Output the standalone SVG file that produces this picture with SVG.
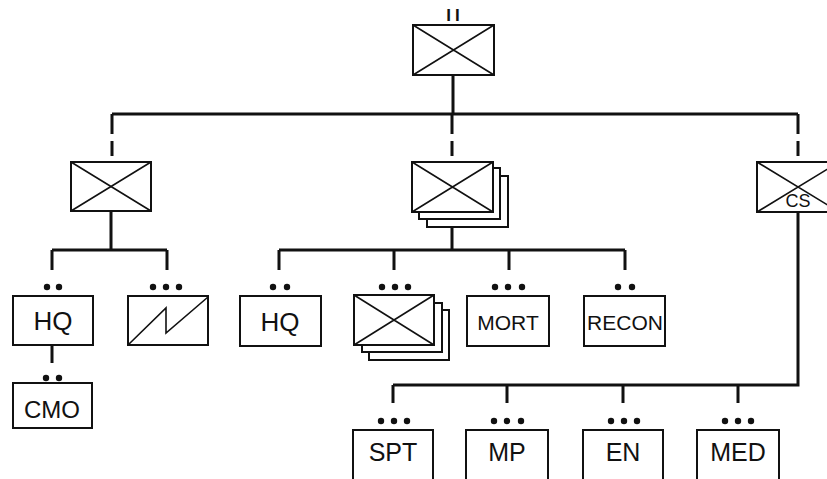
<svg xmlns="http://www.w3.org/2000/svg" width="827" height="479" viewBox="0 0 827 479">
<style>
.box{fill:#fff;stroke:#111;stroke-width:2}
.x{stroke:#111;stroke-width:1.6;fill:none}
.bus{stroke:#111;stroke-width:3;fill:none}
.lbl{font-family:"Liberation Sans",Arial,sans-serif;fill:#111;text-anchor:middle}
.dot{fill:#111}
</style>
<defs>
<circle id="d" r="3.2" class="dot"/>
</defs>
<rect width="827" height="479" fill="#fff"/>
<g id="connectors">
<path class="bus" d="M453 75 V114 M112 114 H798"/>
<path class="bus" d="M112 114 V134 M112 141 V156"/>
<path class="bus" d="M452 114 V134 M452 141 V156"/>
<path class="bus" d="M798 114 V134 M798 141 V156"/>
<path class="bus" d="M111 211 V250 M52 250 H167 M52 250 V270 M167 250 V270"/>
<path class="bus" d="M52 345 V363"/>
<path class="bus" d="M452 227 V250 M279 250 H625 M279 250 V270 M394 250 V270 M509 250 V270 M625 250 V270"/>
<path class="bus" d="M798 212 V385 H393 M393 385 V403 M507 385 V403 M623 385 V403 M738 385 V403"/>
</g>
<g id="top">
<text class="lbl" x="455" y="21" font-size="17" font-weight="bold" letter-spacing="4">II</text>
<rect class="box" x="413" y="25" width="81" height="50"/>
<path class="x" d="M413 25 L494 75 M494 25 L413 75"/>
</g>
<g id="left-unit">
<rect class="box" x="71" y="162" width="80" height="49"/>
<path class="x" d="M71 162 L151 211 M151 162 L71 211"/>
</g>
<g id="mid-unit">
<rect class="box" x="427" y="176" width="81" height="51"/>
<rect class="box" x="419" y="168" width="81" height="51"/>
<rect class="box" x="412" y="162" width="81" height="50"/>
<path class="x" d="M412 162 L493 212 M493 162 L412 212"/>
</g>
<g id="cs-unit">
<rect class="box" x="757" y="162" width="82" height="50"/>
<path class="x" d="M757 162 L839 212 M839 162 L757 212"/>
<text class="lbl" x="798" y="207" font-size="18">CS</text>
</g>
<g id="hq-left">
<use href="#d" x="47" y="287"/><use href="#d" x="59" y="287"/>
<rect class="box" x="13" y="296" width="80" height="49"/>
<text class="lbl" x="53" y="330" font-size="26">HQ</text>
</g>
<g id="signal">
<use href="#d" x="153" y="287"/><use href="#d" x="166" y="287"/><use href="#d" x="179" y="287"/>
<rect class="box" x="128" y="296" width="80" height="49"/>
<path class="x" d="M128 345 L166 308 L166 333 L208 297"/>
</g>
<g id="cmo">
<use href="#d" x="46" y="378"/><use href="#d" x="59" y="378"/>
<rect class="box" x="13" y="383" width="79" height="45"/>
<text class="lbl" x="52" y="418" font-size="24">CMO</text>
</g>
<g id="hq-mid">
<use href="#d" x="273" y="287"/><use href="#d" x="287" y="287"/>
<rect class="box" x="240" y="296" width="81" height="50"/>
<text class="lbl" x="280" y="331" font-size="26">HQ</text>
</g>
<g id="companies">
<use href="#d" x="382" y="287"/><use href="#d" x="395" y="287"/><use href="#d" x="408" y="287"/>
<rect class="box" x="369" y="310" width="80" height="50"/>
<rect class="box" x="362" y="303" width="80" height="49"/>
<rect class="box" x="354" y="295" width="80" height="50"/>
<path class="x" d="M354 295 L434 345 M434 295 L354 345"/>
</g>
<g id="mort">
<use href="#d" x="495" y="287"/><use href="#d" x="508" y="287"/><use href="#d" x="522" y="287"/>
<rect class="box" x="467" y="296" width="82" height="50"/>
<text class="lbl" x="508" y="330" font-size="21">MORT</text>
</g>
<g id="recon">
<use href="#d" x="618" y="287"/><use href="#d" x="632" y="287"/>
<rect class="box" x="584" y="296" width="81" height="50"/>
<text class="lbl" x="625" y="330" font-size="21">RECON</text>
</g>
<g id="spt">
<use href="#d" x="381" y="421"/><use href="#d" x="394" y="421"/><use href="#d" x="407" y="421"/>
<rect class="box" x="353" y="430" width="80" height="60"/>
<text class="lbl" x="393" y="461" font-size="25">SPT</text>
</g>
<g id="mp">
<use href="#d" x="494" y="421"/><use href="#d" x="507" y="421"/><use href="#d" x="521" y="421"/>
<rect class="box" x="466" y="430" width="82" height="60"/>
<text class="lbl" x="507" y="461" font-size="25">MP</text>
</g>
<g id="en">
<use href="#d" x="611" y="421"/><use href="#d" x="624" y="421"/><use href="#d" x="637" y="421"/>
<rect class="box" x="583" y="430" width="80" height="60"/>
<text class="lbl" x="623" y="461" font-size="25">EN</text>
</g>
<g id="med">
<use href="#d" x="725" y="421"/><use href="#d" x="738" y="421"/><use href="#d" x="751" y="421"/>
<rect class="box" x="697" y="430" width="82" height="60"/>
<text class="lbl" x="738" y="461" font-size="25">MED</text>
</g>
</svg>
